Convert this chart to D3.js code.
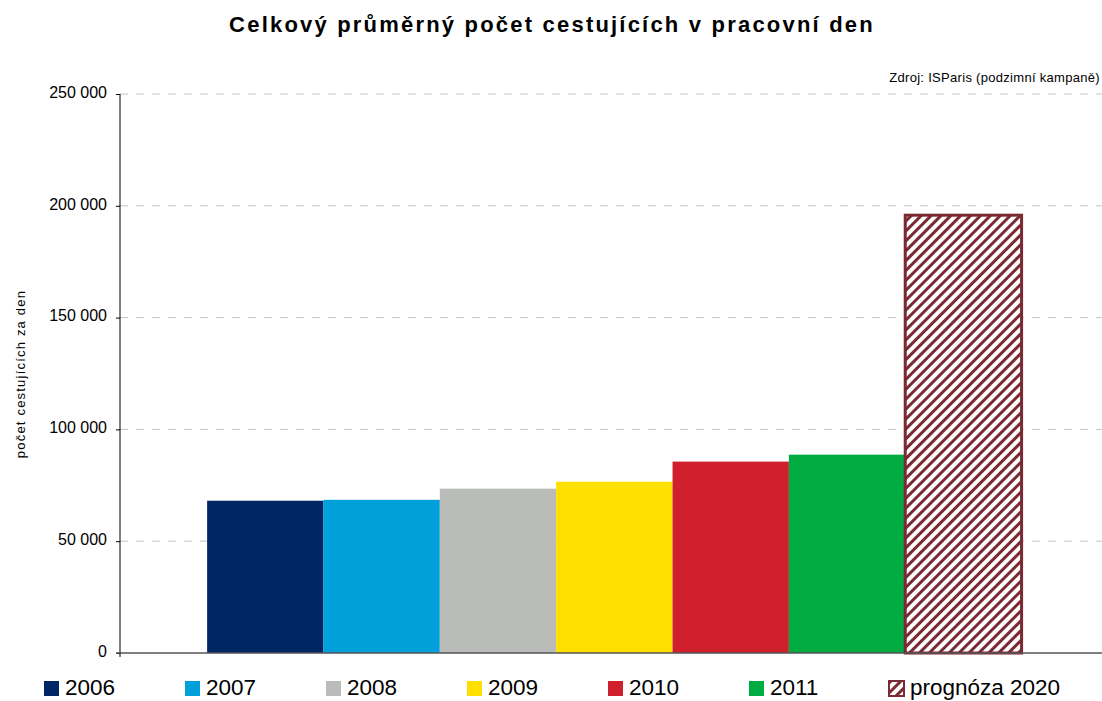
<!DOCTYPE html>
<html>
<head>
<meta charset="utf-8">
<script src="https://cdn.jsdelivr.net/npm/d3@7"></script>
<style>
  body { margin: 0; background: #fff; font-family: "Liberation Sans", Arial, sans-serif; }
</style>
</head>
<body>
<script>
// data
var years = ["2006", "2007", "2008", "2009", "2010", "2011", "prognóza 2020"];
var values = [68100, 68500, 73500, 76600, 85600, 88700, 195800];
var colors = ["#002663", "#00a0da", "#babcb9", "#ffdf00", "#d0202e", "#00ac41", "hatch"];
var yTicks = [0, 50000, 100000, 150000, 200000, 250000];

var W = 1102, H = 701;
var margin = {top: 94, right: 0, bottom: 48, left: 120};
var width = W - margin.left - margin.right,
    height = H - margin.top - margin.bottom;

var svg = d3.select("body").append("svg")
    .attr("width", W)
    .attr("height", H);

// hatch pattern for the forecast
var defs = svg.append("defs");
var pat = defs.append("pattern")
    .attr("id", "hatch")
    .attr("patternUnits", "userSpaceOnUse")
    .attr("width", 7).attr("height", 7)
    .attr("patternTransform", "rotate(45)");
pat.append("rect").attr("width", 7).attr("height", 7).attr("fill", "#fff");
pat.append("rect").attr("width", 3).attr("height", 7).attr("fill", "#7b2a33");

function fillOf(c) { return c == "hatch" ? "url(#hatch)" : c; }

svg.append("text")
    .attr("x", 552).attr("y", 32)
    .attr("text-anchor", "middle")
    .style("font-size", "22px")
    .style("font-weight", "bold")
    .style("letter-spacing", "2.2px")
    .text("Celkový průměrný počet cestujících v pracovní den");

svg.append("text")
    .attr("x", 1100).attr("y", 82)
    .attr("text-anchor", "end")
    .style("font-size", "13px")
    .style("letter-spacing", "0.3px")
    .text("Zdroj: ISParis (podzimní kampaně)");

var g = svg.append("g")
    .attr("transform", "translate(" + margin.left + "," + margin.top + ")");

var y = d3.scaleLinear().domain([0, 250000]).range([height, 0]);
var x = d3.scaleBand().domain(years).range([0, width])
    .paddingInner(0).paddingOuter(0.72).align(0.52);

// gridlines
g.selectAll(".grid")
    .data(yTicks.filter(function(d) { return d > 0; }))
  .enter().append("line")
    .attr("class", "grid")
    .attr("x1", 0).attr("x2", width)
    .attr("y1", function(d) { return y(d); })
    .attr("y2", function(d) { return y(d); })
    .style("stroke", "#c4c4c4")
    .style("stroke-width", 1)
    .style("stroke-dasharray", "8,8");

// bars
g.selectAll(".bar")
    .data(values)
  .enter().append("rect")
    .attr("class", "bar")
    .attr("x", function(d, i) { return x(years[i]); })
    .attr("y", function(d) { return y(d); })
    .attr("width", x.bandwidth())
    .attr("height", function(d) { return height - y(d); })
    .style("fill", function(d, i) { return fillOf(colors[i]); })
    .style("stroke", function(d, i) { return colors[i] == "hatch" ? "#7b2a33" : "none"; })
    .style("stroke-width", 3);

// y axis
var yAxis = d3.axisLeft(y)
    .tickValues(yTicks)
    .tickSize(4)
    .tickFormat(function(d) { return d3.format(",")(d).replace(/,/g, " "); });
var ya = g.append("g").call(yAxis);
ya.select(".domain").attr("d", "M0," + height + "V0").style("stroke", "#000");
ya.selectAll(".tick line").style("stroke", "#000");
ya.selectAll("text")
    .attr("x", -13)
    .attr("dy", "0.2em")
    .style("font-family", "Liberation Sans, Arial, sans-serif")
    .style("font-size", "16px")
    .style("fill", "#000");

// x axis baseline
g.append("line")
    .attr("x1", -4).attr("x2", width)
    .attr("y1", height).attr("y2", height)
    .style("stroke", "#555")
    .style("stroke-width", 1.5);
g.append("line")
    .attr("x1", 0).attr("x2", 0)
    .attr("y1", height).attr("y2", height + 4)
    .style("stroke", "#000");

svg.append("text")
    .attr("transform", "rotate(-90)")
    .attr("x", -374).attr("y", 25)
    .attr("text-anchor", "middle")
    .style("font-size", "13px")
    .style("letter-spacing", "1.2px")
    .text("počet cestujících za den");

// legend
var legendX = [44, 185, 326, 467, 608, 749, 889];
var legend = svg.selectAll(".legend")
    .data(years)
  .enter().append("g")
    .attr("class", "legend")
    .attr("transform", function(d, i) { return "translate(" + legendX[i] + ",681)"; });
legend.append("rect")
    .attr("width", 15).attr("height", 15)
    .style("fill", function(d, i) { return fillOf(colors[i]); })
    .style("stroke", function(d, i) { return colors[i] == "hatch" ? "#7b2a33" : "none"; })
    .style("stroke-width", function(d, i) { return colors[i] == "hatch" ? 2 : 0; });
legend.append("text")
    .attr("x", 21).attr("y", 14)
    .style("font-size", "22.5px")
    .text(function(d) { return d; });
</script>
</body>
</html>
